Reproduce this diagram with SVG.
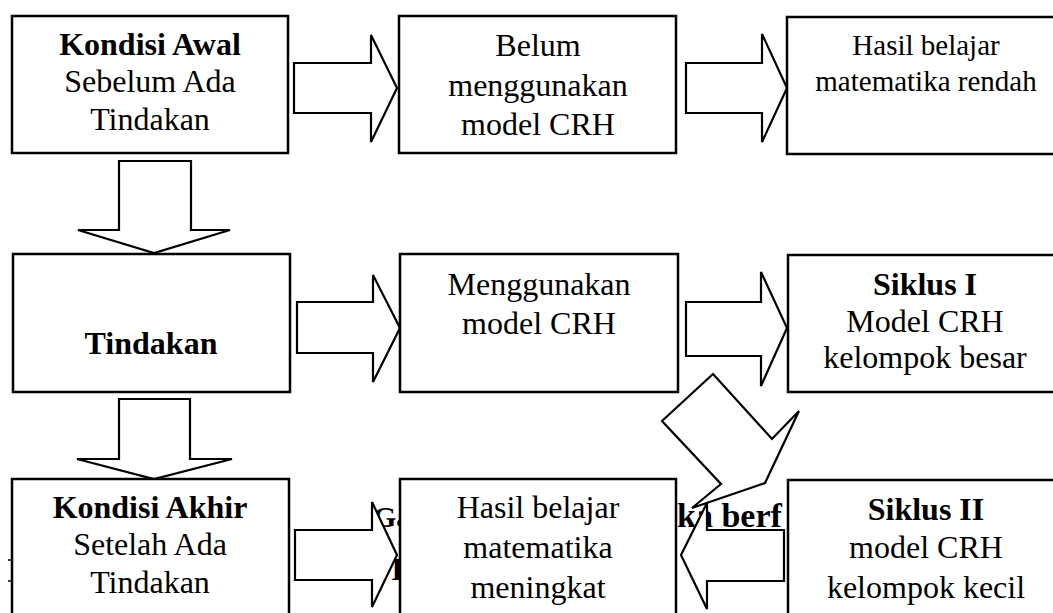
<svg xmlns="http://www.w3.org/2000/svg" width="1053" height="613" viewBox="0 0 1053 613">
<style>
.box{fill:#fff;stroke:#000;stroke-width:2.5}
.arr{fill:#fff;stroke:#000;stroke-width:2.2;stroke-linejoin:miter}
text{font-family:"Liberation Serif","Times New Roman",serif;fill:#000;text-anchor:middle}
.t32{font-size:32px}
.t29{font-size:29px}
.b{font-weight:bold}
.cap{font-size:34px;font-weight:bold;text-anchor:start}
</style>
<rect width="1053" height="613" fill="#fff"/>
<g id="caption-fragments">
<text class="cap" x="373" y="527" style="font-size:30px">Ga</text>
<text class="cap" x="677" y="527">ka berf</text>
<text class="cap" x="391" y="580" style="font-size:32px">I</text>
<line x1="8" y1="560" x2="12" y2="560" stroke="#000" stroke-width="1.5"/>
<line x1="8" y1="581" x2="12" y2="581" stroke="#000" stroke-width="1.5"/>
</g>
<g id="connectors">
<polygon class="arr" points="294,63 371,63 371,35 397,88 371,142 371,113 294,113"/>
<polygon class="arr" points="686,63 762,63 762,34 787,88 762,142 762,113 686,113"/>
<polygon class="arr" points="297,302 373,302 373,275 400,328 373,382 373,353 297,353"/>
<polygon class="arr" points="686,302 761,302 761,272 787,328 761,386 761,356 686,356"/>
<polygon class="arr" points="295,530 372,530 372,502 397,555 372,607 372,580 295,580"/>
<polygon class="arr" points="784,530 707,530 707,503 681,555 707,609 707,581 784,581"/>
<polygon class="arr" points="119,161 191,161 191,230 230,230 154,253 78,230 119,230"/>
<polygon class="arr" points="119,399 190,399 190,459 232,459 154,479 77,459 119,459"/>
<polygon class="arr" points="713,374 772,439 799,411 765,483 692,508 721,484 662,421"/>
</g>
<g id="node-kondisi-awal">
<rect class="box" x="12" y="16" width="276" height="137"/>
<text class="t32 b" x="150" y="55">Kondisi Awal</text>
<text class="t32" x="150" y="92">Sebelum Ada</text>
<text class="t32" x="150" y="130">Tindakan</text>
</g>
<g id="node-belum">
<rect class="box" x="399" y="16" width="277" height="137"/>
<text class="t32" x="538" y="56">Belum</text>
<text class="t32" x="538" y="96">menggunakan</text>
<text class="t32" x="538" y="135">model CRH</text>
</g>
<g id="node-hasil-rendah">
<rect class="box" x="787" y="17" width="300" height="137"/>
<text class="t29" x="926" y="55">Hasil belajar</text>
<text class="t29" x="926" y="91">matematika rendah</text>
</g>
<g id="node-tindakan">
<rect class="box" x="13" y="254" width="277" height="138"/>
<text class="t32 b" x="151" y="354">Tindakan</text>
</g>
<g id="node-menggunakan">
<rect class="box" x="400" y="254" width="278" height="138"/>
<text class="t32" x="539" y="295">Menggunakan</text>
<text class="t32" x="539" y="334">model CRH</text>
</g>
<g id="node-siklus-1">
<rect class="box" x="788" y="255" width="300" height="137"/>
<text class="t32 b" x="925" y="295">Siklus I</text>
<text class="t32" x="925" y="332">Model CRH</text>
<text class="t32" x="925" y="368">kelompok besar</text>
</g>
<g id="node-kondisi-akhir">
<rect class="box" x="12" y="479" width="277" height="160"/>
<text class="t32 b" x="150" y="518">Kondisi Akhir</text>
<text class="t32" x="150" y="555">Setelah Ada</text>
<text class="t32" x="150" y="593">Tindakan</text>
</g>
<g id="node-hasil-meningkat">
<rect class="box" x="400" y="479" width="276" height="160"/>
<text class="t32" x="538" y="518">Hasil belajar</text>
<text class="t32" x="538" y="558">matematika</text>
<text class="t32" x="538" y="598">meningkat</text>
</g>
<g id="node-siklus-2">
<rect class="box" x="788" y="480" width="300" height="160"/>
<text class="t32 b" x="926" y="520">Siklus II</text>
<text class="t32" x="926" y="558">model CRH</text>
<text class="t32" x="926" y="598">kelompok kecil</text>
</g>
</svg>
